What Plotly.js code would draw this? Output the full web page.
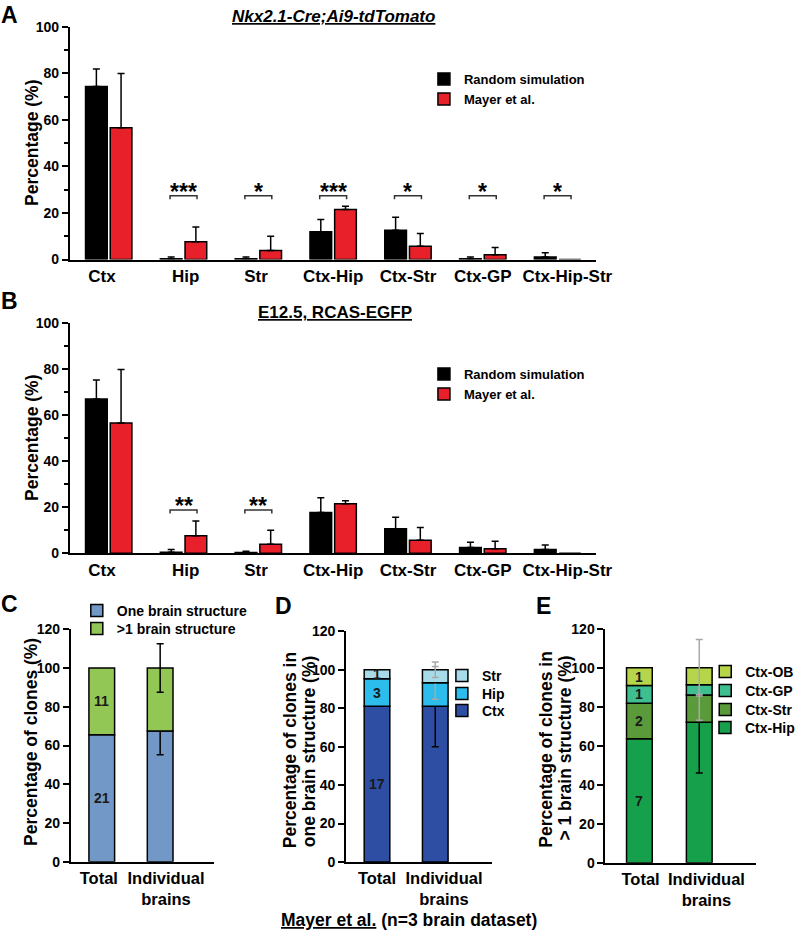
<!DOCTYPE html>
<html>
<head>
<meta charset="utf-8">
<script src="https://cdn.plot.ly/plotly-3.0.1.min.js"></script>
<style>html,body{margin:0;padding:0;background:#fff;}#chart{width:800px;height:932px;}</style>
</head>
<body>
<div id="chart"></div>
<script>
// ---------- DATA ----------
const regionCats = ['Ctx', 'Hip', 'Str', 'Ctx-Hip', 'Ctx-Str', 'Ctx-GP', 'Ctx-Hip-Str'];

// Panel A (Nkx2.1-Cre;Ai9-tdTomato)
const simA    = [74.3, 0.3, 0.3, 11.9, 12.6, 0.3, 1.1];
const simAErr = [7.5, 0.8, 0.8, 5.3, 5.6, 0.8, 1.8];
const sigA    = ['', '***', '*', '***', '*', '*', '*'];

// Panel B (E12.5, RCAS-EGFP)
const simB    = [67.1, 0.5, 0.3, 17.7, 10.7, 2.5, 1.7];
const simBErr = [8.3, 1.2, 0.6, 6.5, 5.0, 2.3, 1.9];
const sigB    = ['', '**', '**', '', '', '', ''];

// Mayer et al. (same in A and B)
const mayer    = [56.6, 7.6, 3.9, 21.5, 5.7, 2.0, 0];
const mayerErr = [23.3, 6.4, 6.1, 1.4, 5.5, 3.2, NaN];

// Panels C-E
const groupCats = ['Total', 'Individual<br>brains'];

// C
const oneBrain      = [65.6, 67.5];
const oneBrainErr   = [NaN, 12.3];
const multiBrain    = [34.4, 32.5];
const multiBrainErr = [NaN, 12.5];
const countsC = {one: ['21', ''], multi: ['11', '']};

// D (one brain structure)
const dCtx = [81.0, 81.0];  const dCtxErrPlus = [NaN, 2];   const dCtxErrMinus = [NaN, 21];
const dHip = [14.3, 12.2];  const dHipErr = [NaN, 8.5];
const dStr = [4.7, 6.8];    const dStrErr = [NaN, 4];
const countsD = {ctx: ['17', ''], hip: ['3', ''], str: ['1', '']};

// E (>1 brain structure)
const eHip = [63.6, 72.0];  const eHipErrPlus = [NaN, 1];  const eHipErrMinus = [NaN, 26];
const eStr = [18.2, 14.0];  const eStrErr = [NaN, 13];
const eGP  = [9.1, 5.3];    const eGPErr  = [NaN, 5];
const eOB  = [9.1, 8.7];    const eOBErr  = [NaN, 14.5];
const countsE = {hip: ['7', ''], str: ['2', ''], gp: ['1', ''], ob: ['1', '']};

// ---------- HELPERS ----------
const W = 800, H = 932;
const FAM = 'Liberation Sans, Arial, Helvetica, sans-serif';
const fnt = (size, color) => ({family: FAM, size: size, color: color || '#000', weight: 700});
const xd = (a, b) => [a / W, b / W];
const yd = (top, bottom) => [1 - bottom / H, 1 - top / H];
const px = v => v / W;
const py = v => 1 - v / H;
const idx = arr => arr.map((_, i) => i);
const cum = arrs => { // base arrays for stacking
  const out = []; let acc = arrs[0].map(() => 0);
  arrs.forEach(a => { out.push(acc.slice()); acc = acc.map((v, i) => v + a[i]); });
  return out;
};

const BLACK = '#000000', RED = '#e8202a';
const C_ONE = '#7198c6', C_MULTI = '#93c755';
const D_CTX = '#2e4ea4', D_HIP = '#2dbdec', D_STR = '#a8dbea';
const E_HIP = '#17a04c', E_STR = '#5b9a3b', E_GP = '#3fbf90', E_OB = '#b6d54b';
const GREY = '#a8a8a8';

const traces = [];
const legends = {};
let legendCount = 0;
// one legend box per item so each entry sits where the reference shows it
function legendFor(textX, centerY, size) {
  legendCount += 1;
  const key = legendCount === 1 ? 'legend' : 'legend' + legendCount;
  legends[key] = {x: px(textX - 40), y: py(centerY), xanchor: 'left', yanchor: 'middle',
    bgcolor: 'rgba(0,0,0,0)', font: fnt(size), itemclick: false, itemdoubleclick: false};
  return key;
}

function groupedPanel(xa, ya, sim, simErr, legY) {
  const x = idx(regionCats);
  traces.push({
    type: 'bar', x: x, y: sim, xaxis: xa, yaxis: ya, name: 'Random simulation',
    width: 0.29, offset: -0.31,
    marker: {color: BLACK, line: {color: '#000', width: 1.5}},
    error_y: {type: 'data', symmetric: false, array: simErr, arrayminus: simErr.map(() => 0), color: '#000', thickness: 1.5, width: 3.5},
    legend: legendFor(465, legY[0], 13), showlegend: true, hoverinfo: 'skip'
  });
  traces.push({
    type: 'bar', x: x, y: mayer, xaxis: xa, yaxis: ya, name: 'Mayer et al.',
    width: 0.29, offset: 0.02,
    marker: {color: RED, line: {color: '#000', width: 1.5}},
    error_y: {type: 'data', symmetric: false, array: mayerErr, color: '#000', thickness: 1.5, width: 3.5},
    legend: legendFor(465, legY[1], 13), showlegend: true, hoverinfo: 'skip'
  });
}
groupedPanel('x', 'y', simA, simAErr, [79, 99]);
groupedPanel('x2', 'y2', simB, simBErr, [374, 394]);

function stackPanel(xa, ya, series, bw, textX) {
  const bases = cum(series.map(s => s.y));
  series.forEach((s, k) => {
    const err = {type: 'data', symmetric: false, array: s.errPlus, arrayminus: s.errMinus,
                 color: s.errColor, thickness: 1.5, width: 3.5};
    traces.push({
      type: 'bar', x: idx(groupCats), y: s.y, base: bases[k], xaxis: xa, yaxis: ya,
      name: s.name, width: bw, marker: {color: s.color, line: {color: '#000', width: 1.5}},
      error_y: err, legend: legendFor(textX, s.legY, 14), showlegend: true, hoverinfo: 'skip'
    });
  });
  return bases;
}
const basesC = stackPanel('x3', 'y3', [
  {name: 'One brain structure', y: oneBrain, errPlus: oneBrainErr, errMinus: oneBrainErr, color: C_ONE, errColor: '#000', legY: 611},
  {name: '>1 brain structure', y: multiBrain, errPlus: multiBrainErr, errMinus: multiBrainErr, color: C_MULTI, errColor: '#000', legY: 629}
], 0.44, 117);
const basesD = stackPanel('x4', 'y4', [
  {name: 'Ctx', y: dCtx, errPlus: dCtxErrPlus, errMinus: dCtxErrMinus, color: D_CTX, errColor: '#000', legY: 711},
  {name: 'Hip', y: dHip, errPlus: dHipErr, errMinus: dHipErr, color: D_HIP, errColor: GREY, legY: 694},
  {name: 'Str', y: dStr, errPlus: dStrErr, errMinus: dStrErr, color: D_STR, errColor: GREY, legY: 676}
], 0.44, 483);
const basesE = stackPanel('x5', 'y5', [
  {name: 'Ctx-Hip', y: eHip, errPlus: eHipErrPlus, errMinus: eHipErrMinus, color: E_HIP, errColor: '#000', legY: 728},
  {name: 'Ctx-Str', y: eStr, errPlus: eStrErr, errMinus: eStrErr, color: E_STR, errColor: GREY, legY: 710},
  {name: 'Ctx-GP', y: eGP, errPlus: eGPErr, errMinus: eGPErr, color: E_GP, errColor: GREY, legY: 691},
  {name: 'Ctx-OB', y: eOB, errPlus: eOBErr, errMinus: eOBErr, color: E_OB, errColor: GREY, legY: 672}
], 0.43, 747);

// ---------- AXES ----------
// small label nudges (layout only) so tick texts sit where the reference prints them
function xAxis(domain, range, cats, anchor, size, nudge) {
  return {domain: domain, range: range, anchor: anchor, tickmode: 'array',
    tickvals: idx(cats).map((v, i) => v + nudge[i]), ticktext: cats,
    tickangle: 0, showline: true, linecolor: '#000', linewidth: 2, ticks: '', showgrid: false, zeroline: false,
    tickfont: fnt(size), fixedrange: true};
}
function yAxis(domain, range, dtick, anchor, minor) {
  const ax = {domain: domain, range: range, anchor: anchor, dtick: dtick, tick0: 0,
    showline: true, linecolor: '#000', linewidth: 2, ticks: 'outside', ticklen: 6, tickwidth: 2, tickcolor: '#000',
    showgrid: false, zeroline: false, tickfont: fnt(14), fixedrange: true};
  if (minor) ax.minor = {dtick: minor, ticks: 'outside', ticklen: 4, tickwidth: 2, tickcolor: '#000', showgrid: false};
  return ax;
}
const nudgeRegion = [-0.09, 0.03, -0.03, 0, 0, 0, 0.13];

// ---------- SHAPES & ANNOTATIONS ----------
const shapes = [];
const annotations = [];
function brackets(sig, xa, ya, h, drop) {
  sig.forEach((s, i) => {
    if (!s) return;
    shapes.push({type: 'path', xref: xa, yref: ya,
      path: `M${i - 0.18},${h - drop} L${i - 0.18},${h} L${i + 0.18},${h} L${i + 0.18},${h - drop}`,
      line: {color: '#333', width: 1.5}});
    annotations.push({xref: xa, yref: ya, x: i, y: h, text: s, showarrow: false,
      yanchor: 'bottom', yshift: -11, font: fnt(23)});
  });
}
brackets(sigA, 'x', 'y', 27.4, 1.5);
brackets(sigB, 'x2', 'y2', 18.8, 1.5);

function segLabels(xa, ya, labels, vals, bases) {
  labels.forEach((t, i) => {
    if (!t) return;
    annotations.push({xref: xa, yref: ya, x: i, y: bases[i] + vals[i] / 2, text: t, showarrow: false,
      font: fnt(14, '#1a1a1a'), yanchor: 'middle'});
  });
}
segLabels('x3', 'y3', countsC.one, oneBrain, basesC[0]);
segLabels('x3', 'y3', countsC.multi, multiBrain, basesC[1]);
segLabels('x4', 'y4', countsD.ctx, dCtx, basesD[0]);
segLabels('x4', 'y4', countsD.hip, dHip, basesD[1]);
segLabels('x4', 'y4', countsD.str, dStr, basesD[2]);
segLabels('x5', 'y5', countsE.hip, eHip, basesE[0]);
segLabels('x5', 'y5', countsE.str, eStr, basesE[1]);
segLabels('x5', 'y5', countsE.gp, eGP, basesE[2]);
segLabels('x5', 'y5', countsE.ob, eOB, basesE[3]);

const paperText = (x, y, text, size, extra) => annotations.push(Object.assign({
  xref: 'paper', yref: 'paper', x: px(x), y: py(y), text: text, showarrow: false,
  xanchor: 'center', yanchor: 'middle', font: fnt(size)}, extra || {}));

// panel letters
paperText(10, 0, 'A', 23, {yanchor: 'top'});
paperText(10, 301, 'B', 23);
paperText(10, 604, 'C', 23);
paperText(284, 606, 'D', 23);
paperText(545, 606, 'E', 23);
// titles
paperText(334, 17, '<u><i>Nkx2.1-Cre;Ai9-tdTomato</i></u>', 17);
paperText(336, 313, '<u>E12.5, RCAS-EGFP</u>', 17);
// y-axis titles
paperText(32, 143, 'Percentage (%)', 17.5, {textangle: -90});
paperText(32, 438, 'Percentage (%)', 17.5, {textangle: -90});
paperText(31, 742, 'Percentage of clones (%)', 17.5, {textangle: -90});
paperText(291, 750, 'Percentage of clones in', 17.5, {textangle: -90});
paperText(310, 751, 'one brain structure (%)', 17.5, {textangle: -90});
paperText(547, 750, 'Percentage of clones in', 17.5, {textangle: -90});
paperText(566, 748, '> 1 brain structure (%)', 17.5, {textangle: -90});
// caption
paperText(410, 920, '<u>Mayer et al.</u> (n=3 brain dataset)', 17.5);

const layout = Object.assign({
  width: W, height: H, margin: {l: 0, r: 0, t: 0, b: 0},
  paper_bgcolor: '#fff', plot_bgcolor: 'rgba(0,0,0,0)',
  barmode: 'overlay', showlegend: true,
  font: {family: FAM, color: '#000'},
  xaxis:  xAxis(xd(70, 597), [-0.52, 6.507], regionCats, 'y', 17, nudgeRegion),
  yaxis:  yAxis(yd(26.7, 259.5), [0, 100], 20, 'x', 10),
  xaxis2: xAxis(xd(70, 597), [-0.52, 6.507], regionCats, 'y2', 17, nudgeRegion),
  yaxis2: yAxis(yd(323.3, 553.3), [0, 100], 20, 'x2', 10),
  xaxis3: xAxis(xd(71, 215), [-0.53, 1.93], groupCats, 'y3', 16.5, [-0.05, 0.1]),
  yaxis3: yAxis(yd(629.3, 861.7), [0, 120], 20, 'x3', null),
  xaxis4: xAxis(xd(347, 493), [-0.53, 1.97], groupCats, 'y4', 16.5, [0, 0.15]),
  yaxis4: yAxis(yd(631.3, 862), [0, 120], 20, 'x4', null),
  xaxis5: xAxis(xd(607, 758), [-0.567, 1.95], groupCats, 'y5', 16.5, [0.02, 0.12]),
  yaxis5: yAxis(yd(628.7, 862.7), [0, 120], 20, 'x5', null),
  shapes: shapes,
  annotations: annotations
}, legends);

Plotly.newPlot('chart', traces, layout, {staticPlot: true, displayModeBar: false});
</script>
</body>
</html>
